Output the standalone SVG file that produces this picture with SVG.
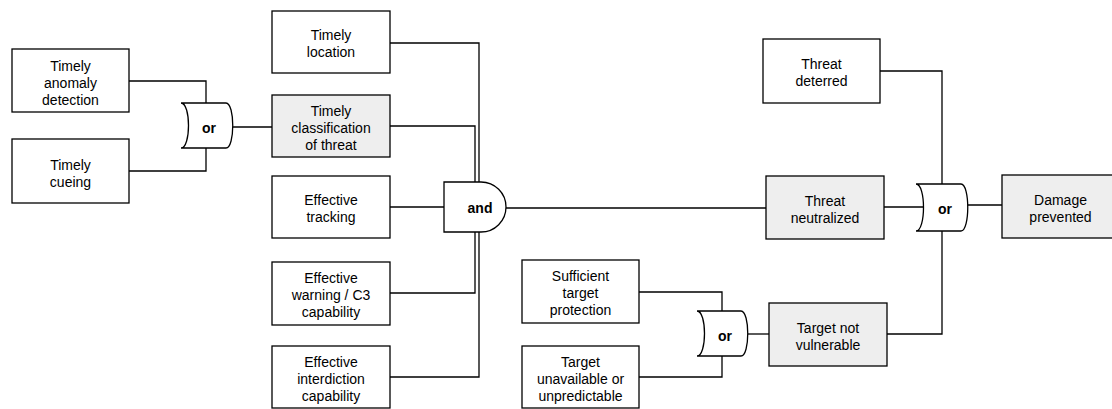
<svg xmlns="http://www.w3.org/2000/svg" width="1112" height="409" viewBox="0 0 1112 409">
<style>
.box{fill:#ffffff;stroke:#000;stroke-width:1.3}
.hl{fill:#eeeeee}
.gate{fill:#ffffff;stroke:#000;stroke-width:1.3}
.wire{fill:none;stroke:#000;stroke-width:1.3}
text{font-family:"Liberation Sans",Arial,sans-serif;font-size:14px;fill:#000;text-anchor:middle}
.gl{font-weight:bold}
</style>
<rect width="1112" height="409" fill="#ffffff"/>
<g id="connectors">
<path class="wire" d="M129,81 H206 V103"/>
<path class="wire" d="M129,171 H206 V148"/>
<path class="wire" d="M233,127 H272"/>
<path class="wire" d="M390,43 H479 V182"/>
<path class="wire" d="M390,126 H475 V182"/>
<path class="wire" d="M390,207 H444"/>
<path class="wire" d="M390,293 H475 V232"/>
<path class="wire" d="M390,377 H479 V232"/>
<path class="wire" d="M506,208 H766"/>
<path class="wire" d="M880,71 H942 V184"/>
<path class="wire" d="M884,207 H924"/>
<path class="wire" d="M968,205 H1002"/>
<path class="wire" d="M887,334 H942 V231"/>
<path class="wire" d="M639,292 H722 V311"/>
<path class="wire" d="M639,377 H722 V356"/>
<path class="wire" d="M748,334 H769"/>
</g>
<g id="n-anomaly"><rect class="box" x="12" y="49" width="117" height="63"/><text><tspan x="70.5" y="70.5">Timely</tspan><tspan x="70.5" y="87.5">anomaly</tspan><tspan x="70.5" y="104.5">detection</tspan></text></g>
<g id="n-cueing"><rect class="box" x="12" y="139" width="117" height="64"/><text><tspan x="70.5" y="169.5">Timely</tspan><tspan x="70.5" y="186.5">cueing</tspan></text></g>
<g id="g-or1"><path class="gate" d="M181,103 H226 C235,103 235,148 226,148 H181 C191,148 191,103 181,103 Z"/><text class="gl" x="209" y="133">or</text></g>
<g id="n-location"><rect class="box" x="272" y="11" width="118" height="62"/><text><tspan x="331" y="40">Timely</tspan><tspan x="331" y="57">location</tspan></text></g>
<g id="n-classification"><rect class="box hl" x="272" y="95" width="118" height="62"/><text><tspan x="331" y="115.5">Timely</tspan><tspan x="331" y="132.5">classification</tspan><tspan x="331" y="149.5">of threat</tspan></text></g>
<g id="n-tracking"><rect class="box" x="272" y="176" width="118" height="62"/><text><tspan x="331" y="205">Effective</tspan><tspan x="331" y="222">tracking</tspan></text></g>
<g id="n-warning"><rect class="box" x="272" y="262" width="118" height="63"/><text><tspan x="331" y="283">Effective</tspan><tspan x="331" y="300">warning / C3</tspan><tspan x="331" y="317">capability</tspan></text></g>
<g id="n-interdiction"><rect class="box" x="272" y="346" width="118" height="62"/><text><tspan x="331" y="366.5">Effective</tspan><tspan x="331" y="383.5">interdiction</tspan><tspan x="331" y="400.5">capability</tspan></text></g>
<g id="g-and"><path class="gate" d="M444,182 H481 A25,25 0 0 1 481,232 H444 Z"/><text class="gl" x="480" y="212.5">and</text></g>
<g id="n-deterred"><rect class="box" x="763" y="39" width="117" height="64"/><text><tspan x="821.5" y="69">Threat</tspan><tspan x="821.5" y="86">deterred</tspan></text></g>
<g id="n-neutralized"><rect class="box hl" x="766" y="176" width="118" height="63"/><text><tspan x="825" y="205.5">Threat</tspan><tspan x="825" y="222.5">neutralized</tspan></text></g>
<g id="n-sufficient"><rect class="box" x="522" y="260" width="117" height="63"/><text><tspan x="580.5" y="281">Sufficient</tspan><tspan x="580.5" y="298">target</tspan><tspan x="580.5" y="315">protection</tspan></text></g>
<g id="n-unavailable"><rect class="box" x="522" y="346" width="117" height="62"/><text><tspan x="580.5" y="366.5">Target</tspan><tspan x="580.5" y="383.5">unavailable or</tspan><tspan x="580.5" y="400.5">unpredictable</tspan></text></g>
<g id="g-or2"><path class="gate" d="M697,311 H741 C750,311 750,356 741,356 H697 C707,356 707,311 697,311 Z"/><text class="gl" x="725" y="341">or</text></g>
<g id="n-notvulnerable"><rect class="box hl" x="769" y="303" width="118" height="63"/><text><tspan x="828" y="332.5">Target not</tspan><tspan x="828" y="349.5">vulnerable</tspan></text></g>
<g id="g-or3"><path class="gate" d="M916,184 H961 C970,184 970,231 961,231 H916 C926,231 926,184 916,184 Z"/><text class="gl" x="945" y="214">or</text></g>
<g id="n-damage"><rect class="box hl" x="1002" y="175" width="118" height="63"/><text><tspan x="1060.5" y="204.5">Damage</tspan><tspan x="1060.5" y="221.5">prevented</tspan></text></g>
</svg>
